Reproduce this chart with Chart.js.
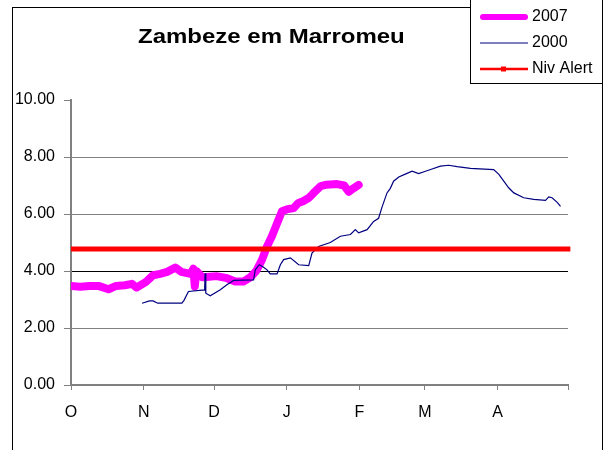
<!DOCTYPE html>
<html>
<head>
<meta charset="utf-8">
<script src="https://cdn.jsdelivr.net/npm/chart.js@4.4.1/dist/chart.umd.min.js"></script>
<style>
  html, body { margin: 0; padding: 0; background: #fff; }
  #c { display: block; }
</style>
</head>
<body>
<canvas id="c" width="606" height="450"></canvas>
<script>
// ---- data (x = days since 1 October, y = water level in m) ----
const chartTitle = 'Zambeze em Marromeu';
const monthTickDays = [0, 31, 61, 92, 123, 151, 182, 212];
const monthLabels = ['O', 'N', 'D', 'J', 'F', 'M', 'A', ''];
const yTickValues = [0, 2, 4, 6, 8, 10];

const days2007 = [0, 4, 8, 12, 16, 19, 23, 26, 28, 32, 35, 38, 41, 44.5, 47, 51, 52.2, 52.8, 53.5, 56,
  59, 62, 66, 70, 73.5, 76.5, 79, 81.5, 83.6, 85.7, 88, 90, 92, 95, 97, 99, 101.5, 103.5, 106.5, 109,
  113.5, 116.5, 118.5, 120.5, 122.7];
const level2007 = [3.47, 3.45, 3.47, 3.47, 3.36, 3.47, 3.5, 3.55, 3.42, 3.62, 3.85, 3.9, 3.97, 4.12, 3.97, 3.9, 4.08, 3.46, 4.0, 3.78,
  3.8, 3.82, 3.76, 3.63, 3.63, 3.78, 4.0, 4.4, 4.86, 5.22, 5.69, 6.1, 6.16, 6.21, 6.39, 6.45, 6.57, 6.74, 6.98, 7.03,
  7.05, 7.0, 6.78, 6.9, 7.02];

const days2000 = [30.3, 33.5, 35, 37, 47.3, 48.2, 50.1, 55.8, 57.0, 57.2, 57.5, 59.4, 63.7, 66.5, 69.4, 77.9, 78.6, 80.3, 82, 83.6,
  85, 87.9, 89.3, 90.7, 93.6, 97.1, 101.4, 102.8, 105.6, 110.6, 114.9, 119.2, 121.3, 122.7, 126.3, 129.1, 131.2, 132.7, 134.8, 136.2,
  137.6, 139.8, 142.6, 145.5, 148.3, 151.2, 154, 157.6, 161.1, 164.7, 170.4, 180.3, 182.5, 184.6, 186.7, 188.9, 193.1, 197.4, 202.4, 203.8,
  205.2, 207.4, 208.8];
const level2000 = [2.87, 2.95, 2.95, 2.87, 2.87, 2.97, 3.28, 3.33, 3.33, 3.92, 3.22, 3.13, 3.34, 3.52, 3.67, 3.69, 4.04, 4.22, 4.14, 4.04,
  3.9, 3.9, 4.22, 4.4, 4.46, 4.22, 4.19, 4.63, 4.86, 5.0, 5.22, 5.28, 5.45, 5.34, 5.45, 5.74, 5.85, 6.25, 6.74, 6.9,
  7.15, 7.3, 7.4, 7.5, 7.42, 7.5, 7.58, 7.68, 7.71, 7.66, 7.6, 7.56, 7.39, 7.15, 6.92, 6.74, 6.57, 6.51, 6.48, 6.6,
  6.57, 6.41, 6.27];

const alertDays = [0, 213];
const alertLevel = [4.77, 4.77];

const seriesNames = ['2007', '2000', 'Niv Alert'];

const toXY = (xs, ys) => xs.map((x, i) => ({ x: x, y: ys[i] }));

const FONT = "'Liberation Sans', Arial, Helvetica, sans-serif";

const decor = {
  id: 'decor',
  beforeDraw(chart) {
    const c = chart.ctx;
    c.save();
    c.fillStyle = '#ffffff';
    c.fillRect(0, 0, chart.width, chart.height);
    c.restore();
  },
  afterDraw(chart) {
    const c = chart.ctx;
    c.save();
    // outer frame
    c.strokeStyle = '#000000';
    c.lineWidth = 1;
    c.strokeRect(12.5, 7.5, 590, 470);
    // title (Excel-style wide bold text)
    c.save();
    c.fillStyle = '#000000';
    c.font = "bold 20px " + FONT;
    c.textAlign = 'left';
    c.textBaseline = 'alphabetic';
    c.translate(138, 43);
    c.scale(1.2, 1);
    c.fillText(chartTitle, 0, 0);
    c.restore();
    // legend box
    c.fillStyle = '#ffffff';
    c.fillRect(470.5, -1, 132, 84.5);
    c.strokeStyle = '#000000';
    c.lineWidth = 1;
    c.strokeRect(470.5, -1, 132, 84.5);
    const rows = [17, 43, 69];
    const ds = chart.data.datasets;
    c.font = "16px " + FONT;
    c.textBaseline = 'middle';
    for (let i = 0; i < 3; i++) {
      const d = ds[i];
      const y = rows[i];
      c.strokeStyle = d.borderColor;
      c.lineWidth = i === 0 ? 6 : (i === 1 ? 1.2 : 2.5);
      c.lineCap = i === 0 ? 'round' : 'butt';
      c.beginPath();
      c.moveTo(i === 0 ? 483 : 480, y);
      c.lineTo(i === 0 ? 525 : 528, y);
      c.stroke();
      if (i === 2) {
        c.fillStyle = d.borderColor;
        c.fillRect(501, y - 2.5, 5, 5);
      }
      c.fillStyle = '#000000';
      c.fillText(d.label, 532, y);
    }
    c.restore();
  }
};

new Chart(document.getElementById('c'), {
  type: 'line',
  data: {
    datasets: [
      {
        label: seriesNames[0],
        data: toXY(days2007, level2007),
        borderColor: '#ff00ff',
        borderWidth: 8,
        borderCapStyle: 'round',
        borderJoinStyle: 'round',
        pointRadius: 0,
        tension: 0,
        fill: false,
        order: 3
      },
      {
        label: seriesNames[1],
        data: toXY(days2000, level2000),
        borderColor: '#000080',
        borderWidth: 1.2,
        pointRadius: 0,
        tension: 0,
        fill: false,
        order: 2
      },
      {
        label: seriesNames[2],
        data: toXY(alertDays, alertLevel),
        borderColor: '#ff0000',
        borderWidth: 5,
        pointRadius: 0,
        tension: 0,
        fill: false,
        clip: false,
        order: 1
      }
    ]
  },
  options: {
    responsive: false,
    animation: false,
    devicePixelRatio: 1,
    layout: { padding: { left: 0, right: 38, top: 100, bottom: 0 } },
    plugins: {
      legend: { display: false },
      title: { display: false },
      tooltip: { enabled: false }
    },
    scales: {
      x: {
        type: 'linear',
        min: 0,
        max: 212,
        afterBuildTicks(scale) { scale.ticks = monthTickDays.map(v => ({ value: v })); },
        afterFit(scale) { scale.height = 65; },
        border: { display: true, color: '#808080', width: 2 },
        grid: { drawOnChartArea: false, drawTicks: true, tickLength: 5, tickColor: '#808080', tickWidth: 1 },
        ticks: {
          autoSkip: false,
          maxRotation: 0,
          padding: 13,
          color: '#000000',
          font: { family: FONT, size: 16 },
          callback: (v, i) => monthLabels[i]
        }
      },
      y: {
        type: 'linear',
        min: 0,
        max: 10,
        afterBuildTicks(scale) { scale.ticks = yTickValues.map(v => ({ value: v })); },
        afterFit(scale) { scale.width = 71; },
        border: { display: true, color: '#808080', width: 2 },
        grid: {
          drawOnChartArea: true,
          drawTicks: true,
          tickLength: 7,
          tickColor: '#808080',
          lineWidth: 1,
          color: (ctx) => {
            if (!ctx.tick) return '#808080';
            if (ctx.tick.value === 10) return 'rgba(0,0,0,0)';
            if (ctx.tick.value === 4) return '#000000';
            return '#808080';
          }
        },
        ticks: {
          padding: 9,
          color: '#000000',
          font: { family: FONT, size: 16 },
          callback: (v) => Number(v).toFixed(2)
        }
      }
    }
  },
  plugins: [decor]
});
</script>
</body>
</html>
